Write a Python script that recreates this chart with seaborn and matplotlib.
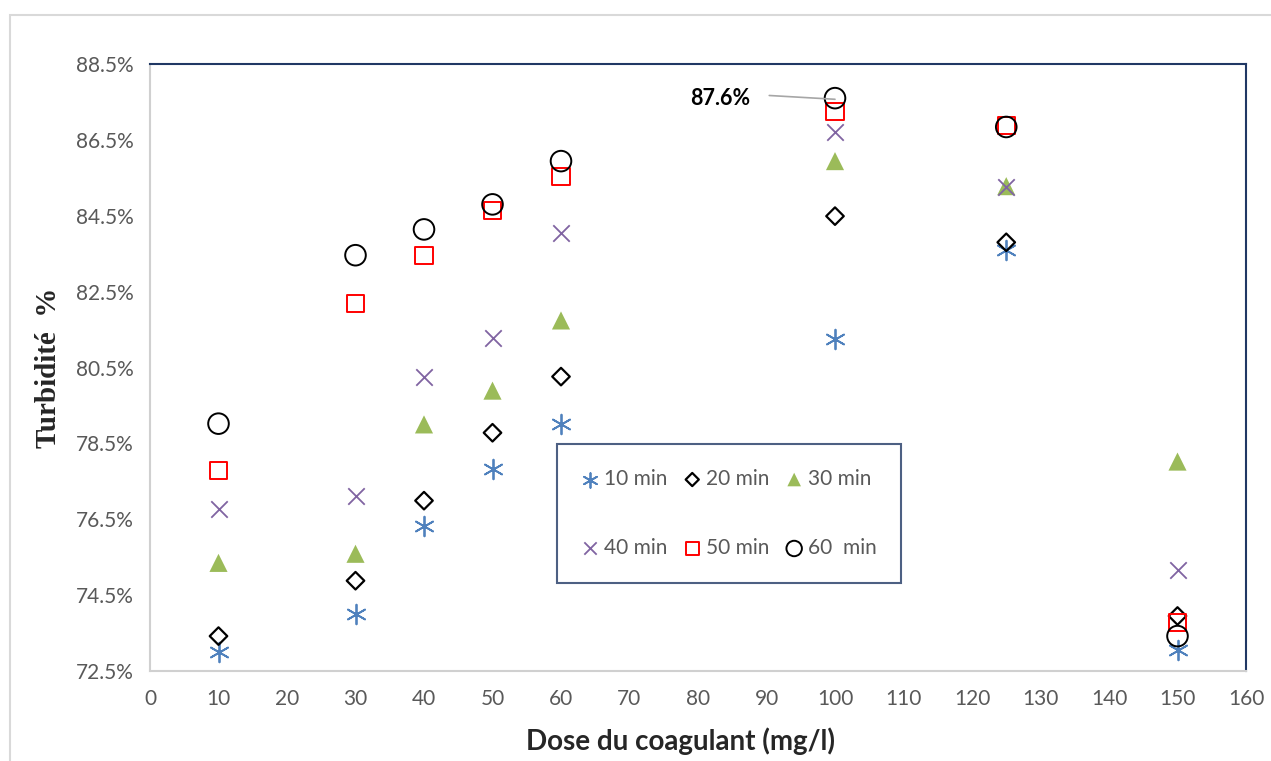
import numpy as np
import seaborn as sns
import matplotlib.pyplot as plt
from matplotlib.patches import Rectangle

# doses (mg/l) and turbidity abatement (%) per settling time
dose = [10, 30, 40, 50, 60, 100, 125, 150]
t10 = [73.0, 74.0, 76.33, 77.83, 79.02, 81.24, 83.59, 73.05]
t20 = [73.42, 74.88, 76.99, 78.78, 80.26, 84.49, 83.80, 73.95]
t30 = [75.35, 75.59, 79.0, 79.89, 81.74, 85.94, 85.28, 78.02]
t40 = [76.78, 77.12, 80.24, 81.29, 84.04, 86.70, 85.25, 75.17]
t50 = [77.78, 82.19, 83.46, 84.65, 85.54, 87.26, 86.89, 73.79]
t60 = [79.02, 83.46, 84.14, 84.80, 85.94, 87.60, 86.84, 73.42]
labels = ["10 min", "20 min", "30 min", "40 min", "50 min", "60  min"]
yticks = [72.5, 74.5, 76.5, 78.5, 80.5, 82.5, 84.5, 86.5, 88.5]
xticks = list(range(0, 170, 10))

sns.set_style("white")
plt.rcParams['font.family'] = ['Lato', 'DejaVu Sans']

fig = plt.figure(figsize=(12.71, 7.61), dpi=100)
ax = fig.add_axes([150 / 1271, 90 / 761, 1096 / 1271, 607 / 761])

# outer chart frame
fig.patches.append(Rectangle((10 / 1271, -0.1), 1.2, 1 - 15 / 761 + 0.1, transform=fig.transFigure,
                             fill=False, edgecolor='#D9D9D9', linewidth=1.5))

navy = '#203864'
styles = [
    (t10, (6, 2, 0), 200, dict(color='#4F81BD', linewidths=1.3)),
    (t20, 'D', 80, dict(facecolors='none', edgecolors='black', linewidths=1.6)),
    (t30, '^', 170, dict(color='#9BBB59', edgecolors='none')),
    (t40, 'x', 140, dict(color='#8064A2', linewidths=1.3)),
    (t50, 's', 150, dict(facecolors='none', edgecolors='#FF0000', linewidths=1.4)),
    (t60, 'o', 220, dict(facecolors='none', edgecolors='black', linewidths=1.4)),
]
for (vals, mk, size, kw), lab in zip(styles, labels):
    sns.scatterplot(x=dose, y=vals, marker=mk, s=size, ax=ax, label=lab, zorder=3, **kw)

ax.set_xlim(0, 160)
ax.set_ylim(72.5, 88.5)
ax.set_xticks(xticks)
ax.set_yticks(yticks)
ax.set_yticklabels([f"{v:.1f}%" for v in yticks])
ax.tick_params(axis='both', length=0, labelsize=15, labelcolor='#595959')
ax.tick_params(axis='x', pad=13)
ax.tick_params(axis='y', pad=12)

for side in ['top', 'right']:
    ax.spines[side].set_color(navy)
    ax.spines[side].set_linewidth(1.5)
for side in ['left', 'bottom']:
    ax.spines[side].set_color('#D0D0D0')
    ax.spines[side].set_linewidth(1.5)

ax.set_xlabel("Dose du coagulant (mg/l)", fontsize=20, fontweight='bold')
ax.xaxis.set_label_coords(0.484, -0.093)
ax.set_ylabel("Turbidité  %", fontsize=21, fontweight='bold', family=['Liberation Serif'], labelpad=10)

# peak annotation
ax.text(87.7, 87.6, "87.6%", ha='right', va='center', fontsize=15.5, fontweight='bold', color='black')
ax.annotate("", xy=(100, 87.57), xytext=(90.4, 87.67),
            arrowprops=dict(arrowstyle='-', color='#A6A6A6', linewidth=1.2, shrinkA=0, shrinkB=0))

# row-wise legend order (matplotlib fills columns first)
handles, labs = ax.get_legend_handles_labels()
order = [0, 3, 1, 4, 2, 5]
leg = ax.legend([handles[i] for i in order], [labs[i] for i in order],
                ncol=3, loc='upper left', bbox_to_anchor=(557 / 1271, 1 - 444 / 761),
                bbox_transform=fig.transFigure, fontsize=15, frameon=True, fancybox=False,
                labelspacing=2.35, columnspacing=0.8, handletextpad=0.25, handlelength=0.8,
                borderpad=1.2, borderaxespad=0, markerscale=0.75)
leg.get_frame().set_edgecolor(navy)
leg.get_frame().set_linewidth(1.5)
for t in leg.get_texts():
    t.set_color('#595959')

fig.savefig("out.png", dpi=100)
